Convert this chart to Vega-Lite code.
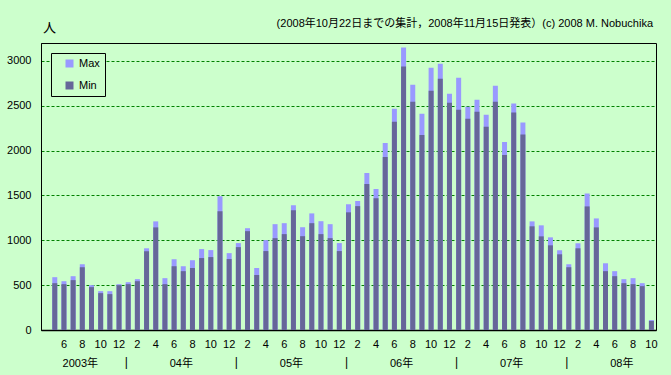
{
  "$schema": "https://vega.github.io/schema/vega-lite/v6.json",
  "width": 615,
  "height": 287,
  "autosize": {"type": "none"},
  "padding": {"left": 41, "top": 43, "right": 15, "bottom": 45},
  "background": "#CCFFCC",
  "title": {
    "text": "(2008年10月22日までの集計，2008年11月15日発表）(c) 2008 M. Nobuchika",
    "anchor": "end",
    "frame": "group",
    "fontSize": 11,
    "fontWeight": "normal",
    "color": "#000000",
    "offset": 15,
    "dy": 23,
    "dx": -3
  },
  "data": {
    "values": [
      {"ym": "2003-04", "Max": 0, "Min": 0},
      {"ym": "2003-05", "Max": 589, "Min": 522},
      {"ym": "2003-06", "Max": 544, "Min": 511},
      {"ym": "2003-07", "Max": 600, "Min": 556},
      {"ym": "2003-08", "Max": 733, "Min": 700},
      {"ym": "2003-09", "Max": 500, "Min": 478},
      {"ym": "2003-10", "Max": 433, "Min": 411},
      {"ym": "2003-11", "Max": 433, "Min": 400},
      {"ym": "2003-12", "Max": 511, "Min": 500},
      {"ym": "2004-01", "Max": 533, "Min": 511},
      {"ym": "2004-02", "Max": 567, "Min": 544},
      {"ym": "2004-03", "Max": 911, "Min": 878},
      {"ym": "2004-04", "Max": 1211, "Min": 1144},
      {"ym": "2004-05", "Max": 578, "Min": 511},
      {"ym": "2004-06", "Max": 789, "Min": 711},
      {"ym": "2004-07", "Max": 711, "Min": 656},
      {"ym": "2004-08", "Max": 778, "Min": 691},
      {"ym": "2004-09", "Max": 902, "Min": 802},
      {"ym": "2004-10", "Max": 891, "Min": 813},
      {"ym": "2004-11", "Max": 1491, "Min": 1324},
      {"ym": "2004-12", "Max": 857, "Min": 791},
      {"ym": "2005-01", "Max": 969, "Min": 924},
      {"ym": "2005-02", "Max": 1135, "Min": 1102},
      {"ym": "2005-03", "Max": 691, "Min": 613},
      {"ym": "2005-04", "Max": 1002, "Min": 880},
      {"ym": "2005-05", "Max": 1180, "Min": 1024},
      {"ym": "2005-06", "Max": 1191, "Min": 1069},
      {"ym": "2005-07", "Max": 1391, "Min": 1335},
      {"ym": "2005-08", "Max": 1146, "Min": 1046},
      {"ym": "2005-09", "Max": 1300, "Min": 1191},
      {"ym": "2005-10", "Max": 1213, "Min": 1069},
      {"ym": "2005-11", "Max": 1180, "Min": 1024},
      {"ym": "2005-12", "Max": 969, "Min": 880},
      {"ym": "2006-01", "Max": 1402, "Min": 1312},
      {"ym": "2006-02", "Max": 1437, "Min": 1381},
      {"ym": "2006-03", "Max": 1750, "Min": 1627},
      {"ym": "2006-04", "Max": 1571, "Min": 1470},
      {"ym": "2006-05", "Max": 2086, "Min": 1929},
      {"ym": "2006-06", "Max": 2466, "Min": 2321},
      {"ym": "2006-07", "Max": 3149, "Min": 2937},
      {"ym": "2006-08", "Max": 2735, "Min": 2545},
      {"ym": "2006-09", "Max": 2410, "Min": 2175},
      {"ym": "2006-10", "Max": 2925, "Min": 2668},
      {"ym": "2006-11", "Max": 2970, "Min": 2802},
      {"ym": "2006-12", "Max": 2634, "Min": 2534},
      {"ym": "2007-01", "Max": 2813, "Min": 2455},
      {"ym": "2007-02", "Max": 2489, "Min": 2355},
      {"ym": "2007-03", "Max": 2567, "Min": 2433},
      {"ym": "2007-04", "Max": 2399, "Min": 2265},
      {"ym": "2007-05", "Max": 2724, "Min": 2545},
      {"ym": "2007-06", "Max": 2095, "Min": 1950},
      {"ym": "2007-07", "Max": 2526, "Min": 2426},
      {"ym": "2007-08", "Max": 2314, "Min": 2181},
      {"ym": "2007-09", "Max": 1211, "Min": 1156},
      {"ym": "2007-10", "Max": 1167, "Min": 1044},
      {"ym": "2007-11", "Max": 1033, "Min": 944},
      {"ym": "2007-12", "Max": 889, "Min": 844},
      {"ym": "2008-01", "Max": 733, "Min": 700},
      {"ym": "2008-02", "Max": 967, "Min": 911},
      {"ym": "2008-03", "Max": 1522, "Min": 1378},
      {"ym": "2008-04", "Max": 1244, "Min": 1144},
      {"ym": "2008-05", "Max": 744, "Min": 656},
      {"ym": "2008-06", "Max": 656, "Min": 600},
      {"ym": "2008-07", "Max": 567, "Min": 522},
      {"ym": "2008-08", "Max": 578, "Min": 511},
      {"ym": "2008-09", "Max": 522, "Min": 489},
      {"ym": "2008-10", "Max": 111, "Min": 100}
    ]
  },
  "layer": [
    {
      "mark": {"type": "bar"},
      "encoding": {
        "x": {
          "field": "ym",
          "type": "ordinal",
          "sort": null,
          "scale": {"paddingInner": 0.456, "paddingOuter": 0.228},
          "axis": {
            "orient": "bottom",
            "title": null,
            "values": ["2003-06","2003-08","2003-10","2003-12","2004-02","2004-04","2004-06","2004-08","2004-10","2004-12","2005-02","2005-04","2005-06","2005-08","2005-10","2005-12","2006-02","2006-04","2006-06","2006-08","2006-10","2006-12","2007-02","2007-04","2007-06","2007-08","2007-10","2007-12","2008-02","2008-04","2008-06","2008-08","2008-10"],
            "labelExpr": "'' + toNumber(slice(datum.value, 5))",
            "labelAngle": 0,
            "labelOverlap": false,
            "labelBound": false,
            "labelFlush": false,
            "bandPosition": 0.5,
            "ticks": false,
            "labelPadding": 8,
            "labelBaseline": "top",
            "domain": true,
            "domainColor": "#000000",
            "domainWidth": 1.5,
            "grid": false
          }
        },
        "y": {
          "field": "Max",
          "type": "quantitative",
          "title": "人",
          "scale": {"domain": [0, 3200], "nice": false},
          "axis": {
            "values": [0, 500, 1000, 1500, 2000, 2500, 3000],
            "format": "d",
            "ticks": false,
            "labelPadding": 10,
            "domainColor": "#000000",
            "grid": true,
            "gridColor": "#008000",
            "gridDash": [3, 2],
            "gridWidth": 1,
            "titleAngle": 0,
            "titleX": 8,
            "titleY": -16,
            "titleAlign": "center",
            "titleBaseline": "middle",
            "titleFontSize": 13,
            "titleFontWeight": "normal"
          }
        },
        "color": {
          "datum": "Max",
          "type": "nominal",
          "scale": {"domain": ["Max", "Min"], "range": ["#9999FF", "#666699"]},
          "legend": {
            "title": null,
            "orient": "top-left",
            "offset": 10,
            "strokeColor": "#000000",
            "fillColor": "#CCFFCC",
            "padding": 5,
            "rowPadding": 10,
            "symbolType": "square",
            "symbolSize": 64,
            "symbolOffset": 8,
            "symbolStrokeWidth": 0,
            "labelOffset": 4,
            "labelFontSize": 11
          }
        }
      }
    },
    {
      "mark": {"type": "bar"},
      "encoding": {
        "x": {
          "field": "ym",
          "type": "ordinal",
          "sort": null,
          "axis": {
            "orient": "bottom",
            "offset": 27,
            "title": null,
            "values": ["2003-08", "2004-07", "2005-07", "2006-07", "2007-07", "2008-07"],
            "labelExpr": "datum.value == '2003-08' ? '2003年' : slice(datum.value, 2, 4) + '年'",
            "labelAngle": 0,
            "labelOverlap": false,
            "labelBound": false,
            "labelFlush": false,
            "bandPosition": 0.5,
            "labelOffset": -2,
            "ticks": false,
            "labelPadding": 0,
            "labelBaseline": "top",
            "domain": false,
            "grid": false
          }
        },
        "y": {"field": "Min", "type": "quantitative", "title": "人"},
        "color": {"datum": "Min", "type": "nominal"}
      }
    },
    {
      "mark": {"type": "bar", "opacity": 0},
      "encoding": {
        "x": {
          "field": "ym",
          "type": "ordinal",
          "sort": null,
          "axis": {
            "orient": "bottom",
            "offset": 27,
            "title": null,
            "values": ["2004-01", "2005-01", "2006-01", "2007-01", "2008-01"],
            "labelExpr": "'|'",
            "labelAngle": 0,
            "labelOverlap": false,
            "labelBound": false,
            "labelFlush": false,
            "labelFontSize": 12,
            "bandPosition": 0,
            "labelOffset": -2,
            "ticks": false,
            "labelPadding": -1,
            "labelBaseline": "top",
            "domain": false,
            "grid": false
          }
        },
        "y": {"field": "Min", "type": "quantitative", "title": "人"}
      }
    }
  ],
  "resolve": {"axis": {"x": "independent"}},
  "config": {
    "font": "Liberation Sans, Noto Sans CJK JP, sans-serif",
    "view": {"stroke": "#000000", "strokeWidth": 1, "fill": "#CCFFCC"},
    "axis": {
      "labelFont": "Liberation Sans, Noto Sans CJK JP, sans-serif",
      "labelFontSize": 11,
      "labelColor": "#000000",
      "titleColor": "#000000",
      "titleFont": "Noto Sans CJK JP, sans-serif"
    },
    "legend": {
      "labelFont": "Liberation Sans, sans-serif",
      "labelColor": "#000000"
    },
    "title": {"font": "Liberation Sans, Noto Sans CJK JP, sans-serif"}
  }
}
